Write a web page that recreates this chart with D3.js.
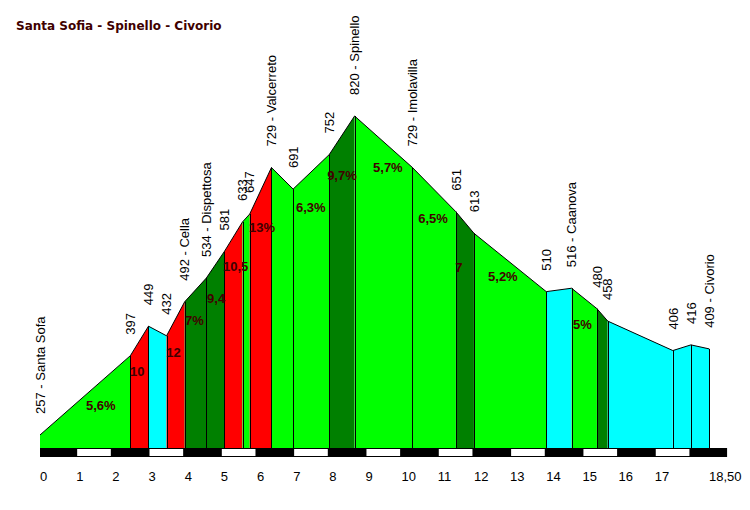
<!DOCTYPE html>
<html><head><meta charset="utf-8">
<script src="https://cdn.jsdelivr.net/npm/d3@7"></script>
<style>body{margin:0;background:#fff}svg{display:block}</style>
</head><body>
<svg id="c" width="750" height="510"></svg>
<script>
const title = "Santa Sofia - Spinello - Civorio";
const km    = [0, 2.5, 3, 3.5, 4, 4.6, 5.1, 5.6, 5.8, 6.4, 7, 8, 8.7, 10.3, 11.5, 12, 14, 14.7, 15.4, 15.7, 17.5, 18, 18.5];
const elev  = [257, 397, 449, 432, 492, 534, 581, 633, 647, 729, 691, 752, 820, 729, 651, 613, 510, 516, 480, 458, 406, 416, 409];
const names = ["Santa Sofa", "", "", "", "Cella", "Dispettosa", "", "", "", "Valcerreto", "", "", "Spinello", "Imolavilla", "", "", "", "Caanova", "", "", "", "", "Civorio"];
// segment class: g = light green, d = dark green, r = red, c = cyan
const segClass = ["g","r","c","r","d","d","r","g","r","g","g","d","g","g","d","g","c","g","d","c","c","c"];
const gradeText = ["5,6%","10","12","7%","9,4","10,5","13%","6,3%","9,7%","5,7%","6,5%","7","5,2%","5%"];
const gradeKm   = [1.27, 2.49, 3.49, 4.01, 4.62, 5.06, 5.78, 7.08, 7.94, 9.21, 10.46, 11.48, 12.39, 14.74];
const gradeEle  = [310, 370, 403, 460, 499, 555, 624, 658, 716, 730, 640, 553, 537, 453];
const tickVals  = [0,1,2,3,4,5,6,7,8,9,10,11,12,13,14,15,16,17,18.5];
const tickText  = ["0","1","2","3","4","5","6","7","8","9","10","11","12","13","14","15","16","17","18,50"];
const barKm = d3.range(0, 19);

const colors = {g:"#00ff00", d:"#008000", r:"#ff0000", c:"#00ffff"};
const svg = d3.select("#c");
const x = d3.scaleLinear().domain([0, 18.5]).range([40, 709]);
const y = d3.scaleLinear().domain([234, 820]).range([448, 116]);
const base = y(234);

svg.append("text").attr("x", 16).attr("y", 30)
  .attr("font-family", "DejaVu Sans").attr("font-weight", "bold").attr("font-size", 12)
  .attr("fill", "#400000").text(title);

const pts = km.map((k, i) => ({k, e: elev[i], n: names[i]}));
const segs = d3.range(pts.length - 1).map(i => ({a: pts[i], b: pts[i+1], c: segClass[i]}));

svg.append("g").selectAll("path").data(segs).join("path")
  .attr("d", s => `M${x(s.a.k)},${base}L${x(s.a.k)},${y(s.a.e)}L${x(s.b.k)},${y(s.b.e)}L${x(s.b.k)},${base}Z`)
  .attr("fill", s => colors[s.c]).attr("stroke", "none");

svg.append("g").selectAll("line").data(pts.slice(1)).join("line")
  .attr("x1", d => Math.round(x(d.k)) + 0.5).attr("x2", d => Math.round(x(d.k)) + 0.5)
  .attr("y1", d => y(d.e)).attr("y2", base)
  .attr("stroke", "#000").attr("stroke-width", 1);

svg.append("path").datum(pts)
  .attr("d", d3.line().x(d => x(d.k)).y(d => y(d.e)))
  .attr("fill", "none").attr("stroke", "#000").attr("stroke-width", 1);

// distance bar
svg.append("rect").attr("x", x(0)).attr("y", base).attr("width", x(19) - x(0)).attr("height", 9).attr("fill", "#000");
svg.append("g").selectAll("rect").data(barKm.filter(k => k % 2 === 1)).join("rect")
  .attr("x", k => x(k) + 1).attr("y", base + 1).attr("width", k => x(k + 1) - x(k) - 2.5).attr("height", 7)
  .attr("fill", "#fff");

svg.append("g").selectAll("text").data(tickVals).join("text")
  .attr("x", d => x(d)).attr("y", 481)
  .attr("font-family", "Liberation Sans, Arial").attr("font-size", 13).attr("fill", "#000")
  .text((d, i) => tickText[i]);

// elevation labels
svg.append("g").selectAll("text").data(pts).join("text")
  .attr("transform", d => `translate(${x(d.k)},${y(d.e) - 21}) rotate(-90)`)
  .attr("dy", "0.36em")
  .attr("font-family", "Liberation Sans, Arial").attr("font-size", 13).attr("fill", "#000")
  .text(d => d.n ? `${d.e} - ${d.n}` : `${d.e}`);

// gradient labels
svg.append("g").selectAll("text").data(gradeText).join("text")
  .attr("x", (d, i) => x(gradeKm[i])).attr("y", (d, i) => y(gradeEle[i]))
  .attr("dy", "0.36em")
  .attr("font-family", "Liberation Sans, Arial").attr("font-weight", "bold").attr("font-size", 13)
  .attr("fill", "#400000").text(d => d);
</script>
</body></html>
